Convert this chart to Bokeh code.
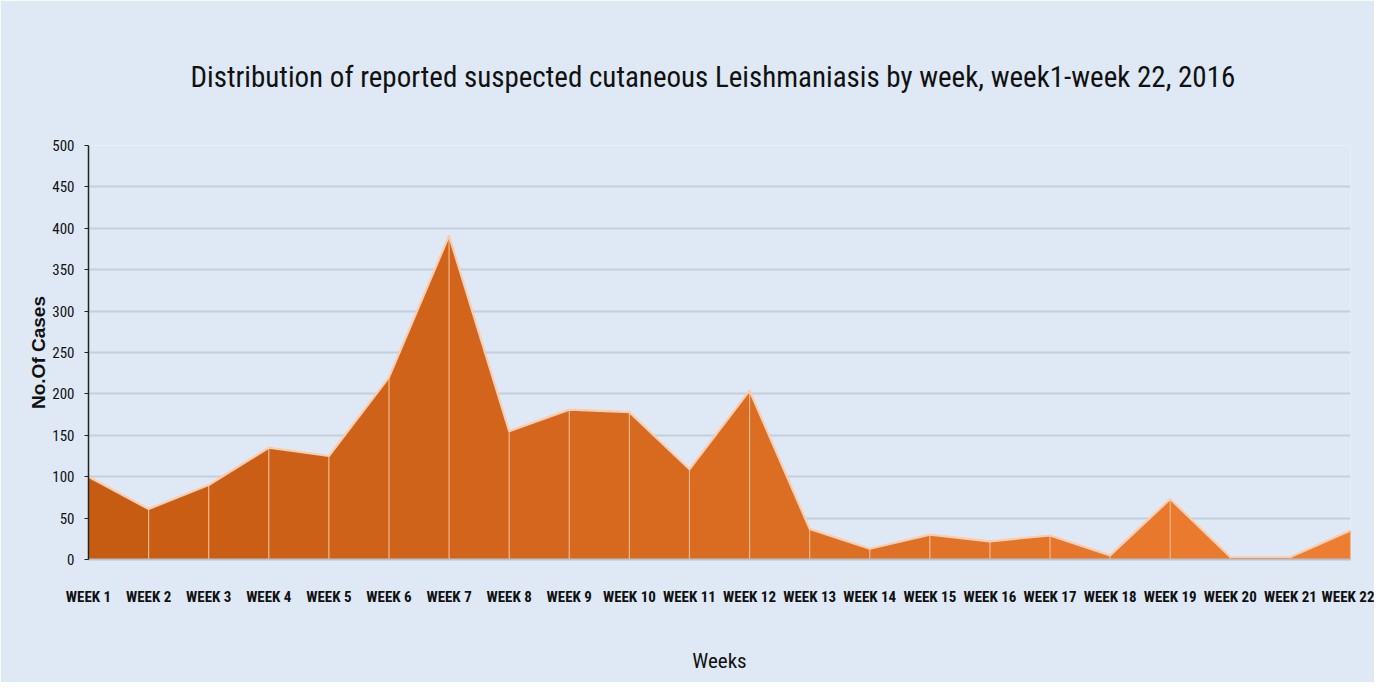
from bokeh.plotting import figure
from bokeh.models import Range1d, FixedTicker
from bokeh.embed import file_html
from bokeh.resources import INLINE

weeks = [f"WEEK {i}" for i in range(1, 23)]
cases = [100, 61, 90, 135, 125, 220, 391, 155, 181, 178, 109, 204, 37, 13, 30, 22, 29, 5, 73, 3, 3, 35]
y_ticks = [0, 50, 100, 150, 200, 250, 300, 350, 400, 450, 500]

TITLE = "Distribution of reported suspected cutaneous Leishmaniasis by week, week1-week 22, 2016"
NARROW = "Roboto Condensed"
BG = "#dee9f5"

xs = list(range(1, len(weeks) + 1))

p = figure(width=1374, height=682, output_backend="svg", toolbar_location=None,
           x_range=Range1d(1, 22), y_range=Range1d(0, 500),
           frame_width=1262, frame_height=414,
           min_border_left=88, min_border_right=24, min_border_top=145, min_border_bottom=123,
           background_fill_color=BG, border_fill_color=BG)
p.outline_line_color = None

c0 = (197, 90, 17)
c1 = (238, 126, 50)
n = len(xs) - 1
pxs, pys, cols = [], [], []
for i in range(n):
    t = (i + 0.5) / n
    col = "#%02x%02x%02x" % tuple(int(round(a + (b - a) * t)) for a, b in zip(c0, c1))
    pxs.append([xs[i], xs[i + 1], xs[i + 1], xs[i]])
    pys.append([0, 0, cases[i + 1], cases[i]])
    cols.append(col)
p.patches(xs=pxs, ys=pys, fill_color=cols, line_color=cols, line_width=0.6)

p.segment(x0=xs, y0=[0] * len(xs), x1=xs, y1=cases, line_color="#f3b68c", line_width=1.2)
p.line(xs, cases, line_color="#f8cdb0", line_width=2.2)

p.title.text = TITLE
p.title.align = "left"
p.title.text_font = NARROW
p.title.text_font_size = "29px"
p.title.text_font_style = "normal"
p.title.text_color = "#111111"
p.title.offset = 102
p.title.standoff = 104

p.xgrid.grid_line_color = None
p.ygrid.grid_line_color = "#c4cfdc"
p.ygrid.grid_line_width = 2
p.yaxis.ticker = FixedTicker(ticks=y_ticks)
p.xaxis.ticker = FixedTicker(ticks=xs)
p.xaxis.major_label_overrides = {x: w for x, w in zip(xs, weeks)}

for ax in (p.xaxis[0], p.yaxis[0]):
    ax.major_label_text_font = NARROW
    ax.major_label_text_font_size = "15px"
    ax.major_label_text_color = "#111111"
    ax.minor_tick_line_color = None

p.yaxis.axis_line_color = "#222222"
p.yaxis.axis_line_width = 1.5
p.yaxis.major_tick_line_color = "#222222"
p.yaxis.major_tick_out = 4
p.yaxis.major_tick_in = 0
p.yaxis.major_label_standoff = 10
p.yaxis.axis_label = "No.Of Cases"
p.yaxis.axis_label_text_font = "Liberation Sans"
p.yaxis.axis_label_text_font_style = "bold"
p.yaxis.axis_label_text_font_size = "19px"
p.yaxis.axis_label_text_color = "#111111"
p.yaxis.axis_label_standoff = 0

p.xaxis.axis_line_color = "#b9c2cc"
p.xaxis.axis_line_width = 2
p.xaxis.major_tick_line_color = None
p.xaxis.major_label_standoff = 22
p.xaxis.major_label_text_font_style = "bold"
p.xaxis.axis_label = "Weeks"
p.xaxis.axis_label_text_font = NARROW
p.xaxis.axis_label_text_font_size = "21px"
p.xaxis.axis_label_text_font_style = "normal"
p.xaxis.axis_label_text_color = "#111111"
p.xaxis.axis_label_standoff = 40

open("out.html", "w").write(file_html(p, INLINE))
